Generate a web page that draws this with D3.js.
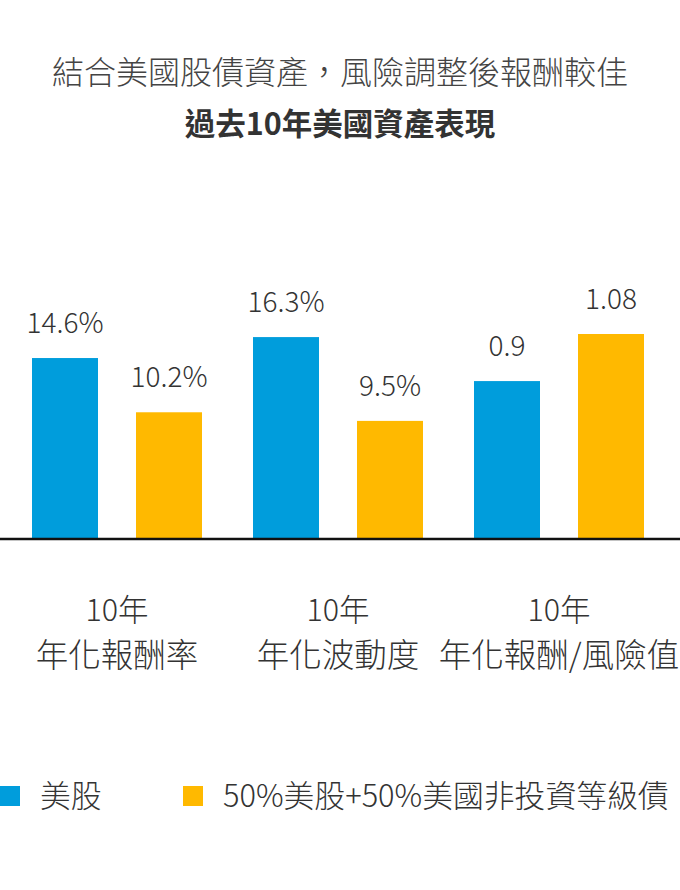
<!DOCTYPE html>
<html><head><meta charset="utf-8">
<script src="https://cdn.jsdelivr.net/npm/d3@7"></script>
<style>
html,body{margin:0;padding:0;background:#fff;}
svg{display:block;}
text{font-family:"Noto Sans CJK TC","Noto Sans",sans-serif;}
</style></head>
<body>
<svg id="c" width="680" height="890"></svg>
<script>
const title = "結合美國股債資產，風險調整後報酬較佳";
const subtitle = "過去10年美國資產表現";
const categories = ["年化報酬率", "年化波動度", "年化報酬/風險值"];
const categoryPrefix = ["10年", "10年", "10年"];
const seriesNames = ["美股", "50%美股+50%美國非投資等級債"];
const usStock = [14.6, 16.3, 0.9];
const mixed = [10.2, 9.5, 1.08];
const valueLabels = [["14.6%", "10.2%"], ["16.3%", "9.5%"], ["0.9", "1.08"]];
const units = ["pct", "pct", "ratio"];
const colors = ["#009ddc", "#ffb900"];

const svg = d3.select("#c");
const baseY = 538;

const x0 = d3.scaleBand().domain(categories).range([6.5, 669.5]).paddingInner(0).paddingOuter(0);
const x1 = d3.scaleBand().domain(seriesNames).range([25.5, 195.5]).paddingInner(38/104).paddingOuter(0);
const yPct = d3.scaleLinear().domain([0, 16.55]).range([baseY, 334]);
const yRatio = d3.scaleLinear().domain([0.3, 1.08]).range([baseY, 334]);
const yFor = i => units[i] === "pct" ? yPct : yRatio;

svg.append("text").attr("x", 340).attr("y", 84).attr("text-anchor", "middle")
  .attr("font-size", 32).attr("font-weight", 300).attr("fill", "#444").text(title);
svg.append("text").attr("x", 340).attr("y", 135).attr("text-anchor", "middle")
  .attr("font-size", 30.5).attr("font-weight", 700).attr("fill", "#333").text(subtitle);

const data = categories.map((c, i) => ({cat: c, i, vals: [usStock[i], mixed[i]]}));
const g = svg.selectAll("g.grp").data(data).join("g").attr("class", "grp")
  .attr("transform", d => `translate(${x0(d.cat)},0)`);

g.selectAll("rect").data(d => d.vals.map((v, j) => ({v, j, i: d.i})))
  .join("rect")
  .attr("x", d => x1(seriesNames[d.j]))
  .attr("width", x1.bandwidth())
  .attr("y", d => yFor(d.i)(d.v))
  .attr("height", d => baseY - yFor(d.i)(d.v))
  .attr("fill", d => colors[d.j]);

g.selectAll("text.val").data(d => d.vals.map((v, j) => ({v, j, i: d.i})))
  .join("text").attr("class", "val")
  .attr("x", d => x1(seriesNames[d.j]) + x1.bandwidth() / 2)
  .attr("y", d => yFor(d.i)(d.v) - 25)
  .attr("text-anchor", "middle")
  .attr("font-family", "Roboto, 'Noto Sans', sans-serif")
  .attr("font-size", 28).attr("font-weight", 300).attr("fill", "#333")
  .text(d => valueLabels[d.i][d.j]);

// baseline
svg.append("line").attr("x1", 0).attr("x2", 680).attr("y1", baseY + 1).attr("y2", baseY + 1)
  .attr("stroke", "#111").attr("stroke-width", 2.5);

// category labels
g.append("text").attr("x", x0.bandwidth() / 2).attr("y", 621).attr("text-anchor", "middle")
  .attr("font-size", 30.5).attr("font-weight", 300).attr("fill", "#333")
  .text(d => categoryPrefix[d.i]);
g.append("text").attr("x", x0.bandwidth() / 2).attr("y", 667).attr("text-anchor", "middle")
  .attr("font-size", 32.5).attr("font-weight", 300).attr("fill", "#333")
  .text(d => d.cat);

// legend
const legendX = [0, 183];
const lg = svg.selectAll("g.leg").data(seriesNames).join("g").attr("class", "leg")
  .attr("transform", (d, i) => `translate(${legendX[i]},786)`);
lg.append("rect").attr("x", 0).attr("y", 0).attr("width", 20).attr("height", 20)
  .attr("fill", (d, i) => colors[i]);
lg.append("text").attr("x", 40).attr("y", 21).attr("font-size", 30.8).attr("font-weight", 300)
  .attr("fill", "#333").text(d => d);
</script>
</body></html>
